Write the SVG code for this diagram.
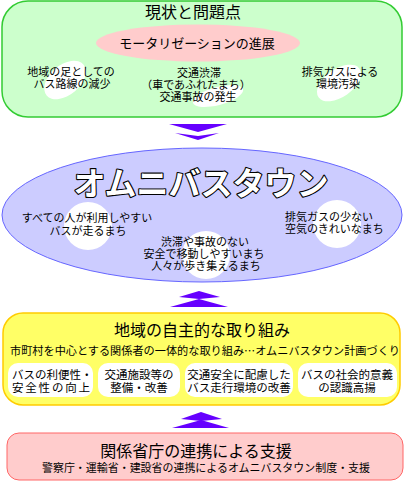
<svg xmlns="http://www.w3.org/2000/svg" width="405" height="481" viewBox="0 0 405 481">
<style>
text{font-family:"Noto Sans CJK JP","Noto Sans",sans-serif;fill:#000;text-anchor:middle}
.t16{font-size:16px}
.t13{font-size:13px}
.t11{font-size:11px}
.t12{font-size:11.5px}
.blob{fill:#fff}
.arrow{fill:#6600ff}
.title{font-size:32px;font-weight:bold;fill:#fff;stroke:#000;stroke-width:2.2;paint-order:stroke;stroke-linejoin:round}
</style>
<rect width="405" height="481" fill="#fff"/>
<g id="connectors">
  <polygon class="arrow" points="169,124 227,124 198,132"/>
  <polygon class="arrow" points="175,133 198,136 219,133 198,140"/>
  <polygon class="arrow" points="179,297 199,291 220,297 199,299"/>
  <polygon class="arrow" points="170,307 199,299 228,307"/>
  <polygon class="arrow" points="181,419 201,412 222,419 201,421"/>
  <polygon class="arrow" points="172,428 201,420 229,428"/>
</g>
<g id="problems">
  <rect x="2" y="1" width="400" height="116" rx="26" fill="#ccffcc" stroke="#33cc33" stroke-width="1.5"/>
  <text class="t16" x="193" y="18">現状と問題点</text>
  <ellipse cx="198" cy="43" rx="102" ry="18.5" fill="#ffcccc"/>
  <text class="t13" x="197" y="48">モータリゼーションの進展</text>
  <ellipse class="blob" cx="65" cy="80" rx="24" ry="15" transform="rotate(-40 65 80)"/>
  <ellipse class="blob" cx="218" cy="96" rx="26" ry="9" transform="rotate(-15 218 96)"/>
  <ellipse class="blob" cx="339" cy="83" rx="25" ry="14" transform="rotate(-35 339 83)"/>
  <text class="t11" x="71" y="76">地域の足としての</text>
  <text class="t11" x="72" y="88">バス路線の減少</text>
  <text class="t11" x="199" y="77">交通渋滞</text>
  <text class="t11" x="196" y="89">（車であふれたまち）</text>
  <text class="t11" x="198" y="101">交通事故の発生</text>
  <text class="t11" x="340" y="76">排気ガスによる</text>
  <text class="t11" x="338" y="88">環境汚染</text>
</g>
<g id="omnibus">
  <ellipse cx="202" cy="215" rx="200" ry="67" fill="#ccccff" stroke="#6666ff" stroke-width="1"/>
  <text class="title" x="201" y="195">オムニバスタウン</text>
  <circle class="blob" cx="88" cy="226" r="24"/>
  <circle class="blob" cx="206" cy="255" r="24"/>
  <circle class="blob" cx="337" cy="224" r="24"/>
  <text class="t11" x="87" y="222">すべての人が利用しやすい</text>
  <text class="t11" x="88" y="235">バスが走るまち</text>
  <text class="t11" x="205" y="246">渋滞や事故のない</text>
  <text class="t11" x="204" y="258">安全で移動しやすいまち</text>
  <text class="t11" x="206" y="270">人々が歩き集えるまち</text>
  <text class="t11" x="285" y="221" style="text-anchor:start">排気ガスの少ない</text>
  <text class="t11" x="285" y="233" style="text-anchor:start">空気のきれいなまち</text>
</g>
<g id="local">
  <rect x="3" y="313" width="397" height="92" rx="20" fill="#ffff66" stroke="#ffcc00" stroke-width="1.5"/>
  <text class="t16" x="202" y="336">地域の自主的な取り組み</text>
  <text class="t11" x="205" y="355" textLength="390" lengthAdjust="spacingAndGlyphs">市町村を中心とする関係者の一体的な取り組み…オムニバスタウン計画づくり</text>
  <rect x="8" y="363" width="85" height="34" rx="10" fill="#fff"/>
  <rect x="98" y="363" width="82" height="34" rx="10" fill="#fff"/>
  <rect x="185" y="363" width="108" height="34" rx="10" fill="#fff"/>
  <rect x="298" y="363" width="99" height="34" rx="10" fill="#fff"/>
  <text class="t12" x="12" y="379" style="text-anchor:start">バスの利便性・</text>
  <text class="t12" x="12" y="392" style="text-anchor:start" textLength="78">安全性の向上</text>
  <text class="t12" x="139" y="379">交通施設等の</text>
  <text class="t12" x="139" y="392">整備・改善</text>
  <text class="t12" x="239" y="379">交通安全に配慮した</text>
  <text class="t12" x="239" y="392">バス走行環境の改善</text>
  <text class="t12" x="347" y="379">バスの社会的意義</text>
  <text class="t12" x="347" y="392">の認識高揚</text>
</g>
<g id="support">
  <rect x="7" y="433" width="396" height="47" rx="12" fill="#ffcccc" stroke="#ff6666" stroke-width="1"/>
  <text class="t16" x="196" y="457">関係省庁の連携による支援</text>
  <text class="t11" x="206" y="472" textLength="328" lengthAdjust="spacingAndGlyphs">警察庁・運輸省・建設省の連携によるオムニバスタウン制度・支援</text>
</g>
</svg>
